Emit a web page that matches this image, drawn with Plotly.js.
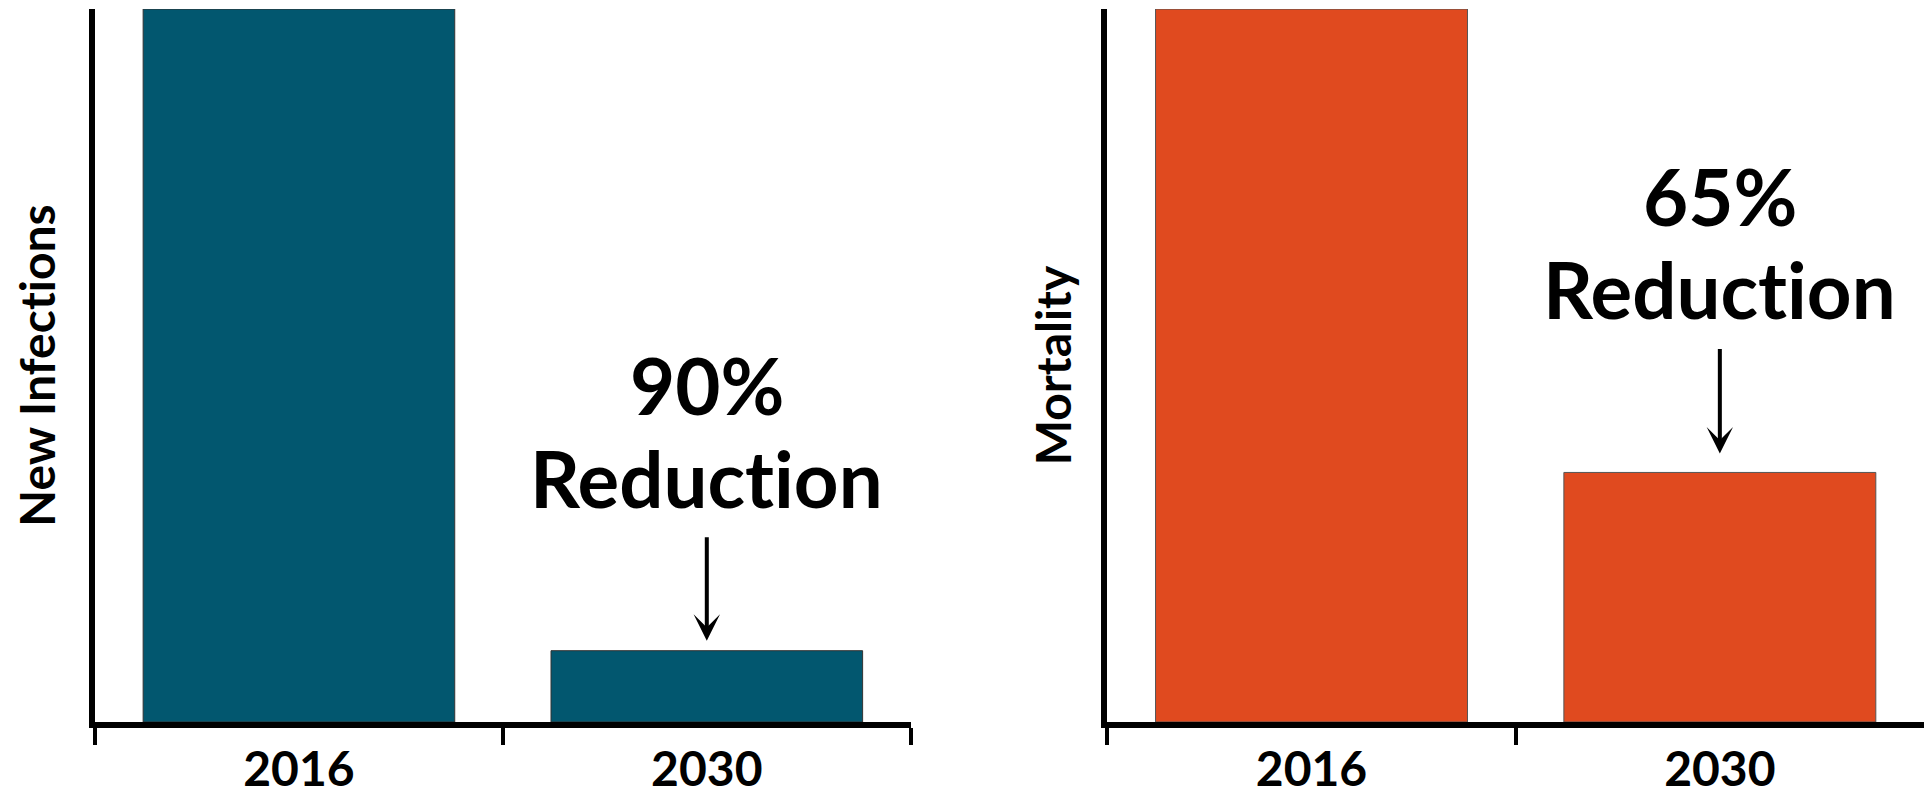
<!DOCTYPE html>
<html><head><meta charset="utf-8">
<script src="https://cdn.plot.ly/plotly-3.0.1.min.js"></script>
<style>
html,body{margin:0;padding:0;background:#fff;}
svg text{font-variant-ligatures:none;font-feature-settings:"liga" 0, "clig" 0;}
</style>
</head><body>
<div id="chart" style="width:1928px;height:795px;"></div>
<script>
// ---- data ----
const years = ['2016', '2030'];
const newInfections = [100, 10];
const mortality = [100, 35];
const panelTitles = ['New Infections', 'Mortality'];
const reductionPct = ['90%', '65%'];
const reductionWord = 'Reduction';
const barColors = ['#02576F', '#E04A1F'];

// ---- styles ----
const FONT = 'Lato, "Open Sans", "DejaVu Sans", sans-serif';
const boldFont = (size) => ({family: FONT, size: size, color: '#000', weight: 'bold'});

const traces = [
  {type: 'bar', x: years, y: newInfections, xaxis: 'x', yaxis: 'y',
   marker: {color: barColors[0], line: {color: '#333', width: 1}}},
  {type: 'bar', x: years, y: mortality, xaxis: 'x2', yaxis: 'y2',
   marker: {color: barColors[1], line: {color: '#555', width: 1}}}
];

const xCommon = {
  type: 'category', range: [-0.5, 1.5], showline: true, linewidth: 6, linecolor: '#000',
  ticks: 'outside', tickson: 'boundaries', ticklen: 17, tickwidth: 4, tickcolor: '#000',
  tickfont: boldFont(48), showgrid: false, zeroline: false, fixedrange: true
};
const yCommon = {
  range: [0, 100], showline: true, linewidth: 6, linecolor: '#000',
  showticklabels: false, ticks: '', showgrid: false, zeroline: false, fixedrange: true
};

const arrowSpecs = [
  {xa: 'x', ya: 'y', val: newInfections[1], tail: -115, standoff: 10, pct: reductionPct[0]},
  {xa: 'x2', ya: 'y2', val: mortality[1], tail: -125, standoff: 19, pct: reductionPct[1]}
];
const xi = years.indexOf('2030');
const annotations = [];
arrowSpecs.forEach(s => {
  annotations.push({xref: s.xa, yref: s.ya, x: xi, y: s.val, text: '',
    showarrow: true, arrowhead: 3, arrowwidth: 4, arrowsize: 1.1, arrowcolor: '#000',
    ax: 0, ay: s.tail, standoff: s.standoff});
  annotations.push({xref: s.xa, yref: s.ya, x: xi, y: s.val, text: reductionWord,
    showarrow: false, yanchor: 'bottom', xanchor: 'center', yshift: -s.tail + 9, font: boldFont(78)});
  annotations.push({xref: s.xa, yref: s.ya, x: xi, y: s.val, text: s.pct,
    showarrow: false, yanchor: 'bottom', xanchor: 'center', yshift: -s.tail + 102, font: boldFont(78)});
});

const layout = {
  width: 1928, height: 795,
  margin: {l: 95, r: 4, t: 9, b: 73},
  paper_bgcolor: '#fff', plot_bgcolor: '#fff',
  showlegend: false, bargap: 0.236,
  xaxis: Object.assign({}, xCommon, {domain: [0, 0.446], anchor: 'y'}),
  yaxis: Object.assign({}, yCommon, {anchor: 'x',
    title: {text: panelTitles[0], font: boldFont(48), standoff: 20}}),
  xaxis2: Object.assign({}, xCommon, {domain: [0.5535, 1], anchor: 'y2'}),
  yaxis2: Object.assign({}, yCommon, {anchor: 'x2',
    title: {text: panelTitles[1], font: boldFont(48), standoff: 17}}),
  annotations: annotations
};

Plotly.newPlot('chart', traces, layout, {displayModeBar: false, staticPlot: true});
</script>
</body></html>
